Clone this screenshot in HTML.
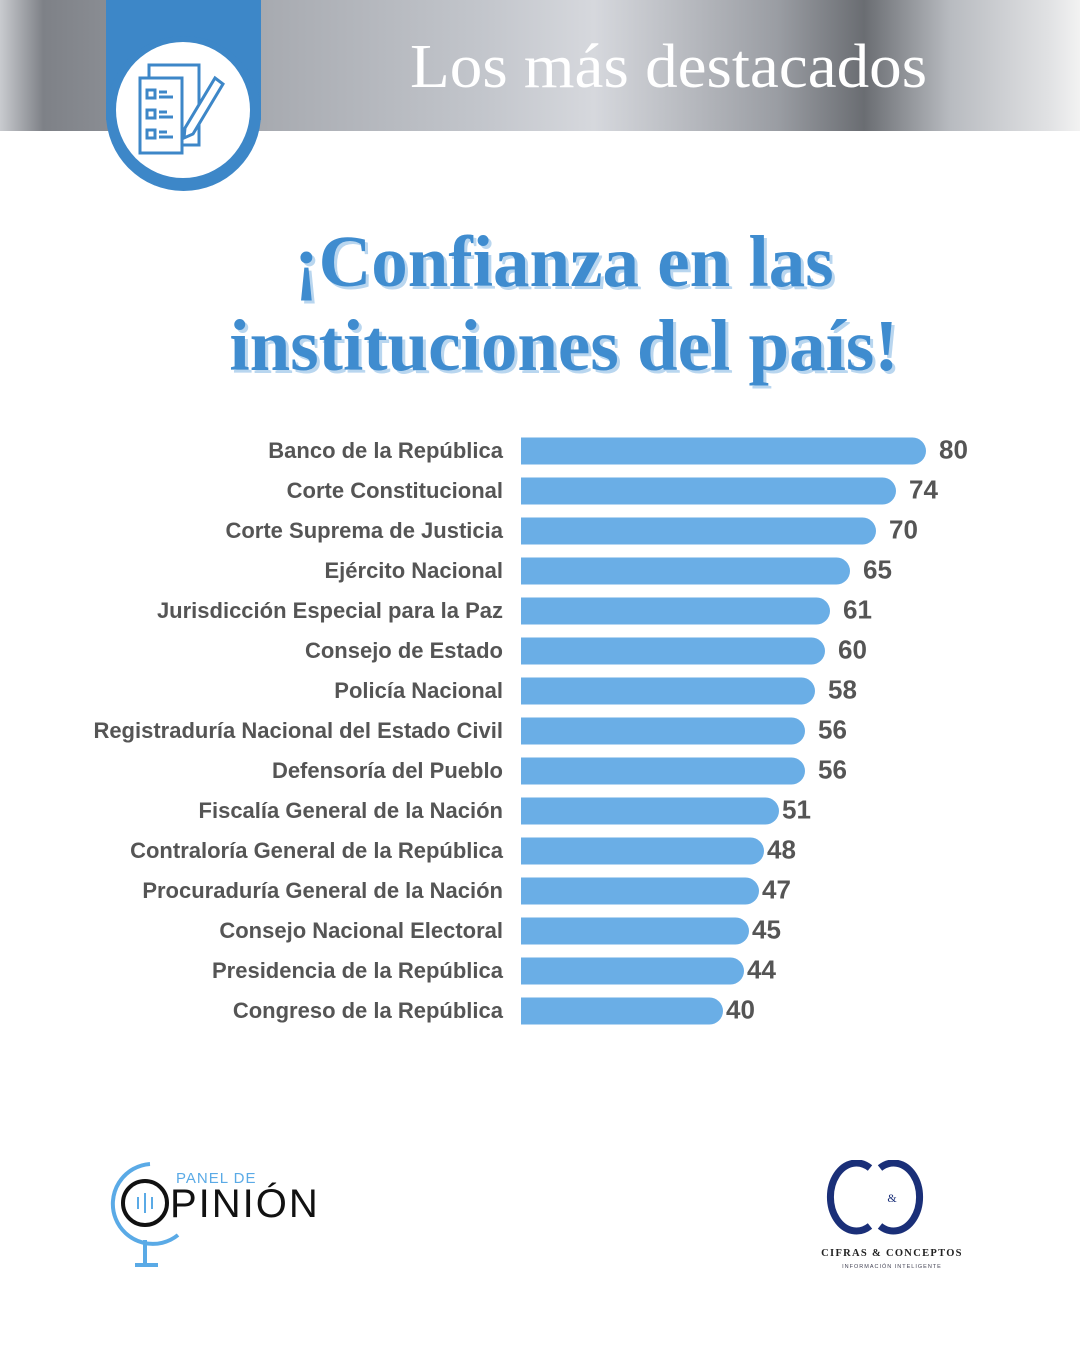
<!DOCTYPE html>
<html><head><meta charset="utf-8"><style>
body{margin:0;width:1080px;height:1350px;background:#fff;position:relative;overflow:hidden;font-family:"Liberation Sans",sans-serif}
.hdr{position:absolute;left:0;top:0;width:1080px;height:131px;background:linear-gradient(90deg,#c9cbcf 0%,#7e8187 4%,#a8abb1 25%,#c3c6cc 45%,#d6d8dd 55%,#9a9da3 72%,#6a6d72 80%,#b8bbc0 88%,#e0e1e3 97%,#f2f2f2 100%)}
.ttl{position:absolute;left:410px;top:32px;font-family:"Liberation Serif",serif;font-size:62px;color:#fff;white-space:nowrap;transform:scaleX(1.05);transform-origin:left}
.blue{position:absolute;left:106px;top:0;width:155px;height:120px;background:#3d87c8}
.circ{position:absolute;left:106px;top:36px;width:155px;height:155px;border-radius:50%;background:#3d87c8}
.inner{position:absolute;left:116px;top:42px;width:134px;height:136px;border-radius:50%;background:#fff}
h1{position:absolute;left:0;width:1128px;top:220px;margin:0;text-align:center;font-family:"Liberation Serif",serif;font-weight:bold;font-size:73px;line-height:84px;color:#3f8ccf;text-shadow:3px 3px 0 #b9d6ef}
.lab{position:absolute;right:577px;font-size:22px;color:#555;font-weight:bold;white-space:nowrap;transform:translateY(-50%)}
.bar{position:absolute;left:521px;height:27px;background:#6aaee6;border-radius:0 14px 14px 0;transform:translateY(-50%)}
.val{position:absolute;font-size:26px;font-weight:bold;color:#555;transform:translateY(-50%)}
</style></head><body>
<div class="hdr"></div>
<div class="ttl">Los más destacados</div>
<div class="blue"></div><div class="circ"></div><div class="inner"></div>
<svg style="position:absolute;left:135px;top:60px" width="95" height="100" viewBox="0 0 95 100" fill="none" stroke="#3d87c8" stroke-width="3">
<rect x="14" y="5" width="50" height="80"/><rect x="5" y="18" width="42" height="75" fill="#fff"/>
<rect x="12" y="30" width="8" height="8"/><rect x="12" y="50" width="8" height="8"/><rect x="12" y="70" width="8" height="8"/>
<path d="M24 32h8M24 37h14M24 52h8M24 57h14M24 72h8M24 77h14"/>
<path d="M80 18l8 6-30 50-9 4 1-10z" fill="#fff"/></svg>
<h1>¡Confianza en las<br>instituciones del país!</h1>
<div id="c"></div>
<script>
var d=[["Banco de la República",80,926,451],["Corte Constitucional",74,896,491],["Corte Suprema de Justicia",70,876,531],["Ejército Nacional",65,850,571],["Jurisdicción Especial para la Paz",61,830,611],["Consejo de Estado",60,825,651],["Policía Nacional",58,815,691],["Registraduría Nacional del Estado Civil",56,805,731],["Defensoría del Pueblo",56,805,771],["Fiscalía General de la Nación",51,779,811],["Contraloría General de la República",48,764,851],["Procuraduría General de la Nación",47,759,891],["Consejo Nacional Electoral",45,749,931],["Presidencia de la República",44,744,971],["Congreso de la República",40,723,1011]];
var h="";d.forEach(function(r){h+='<div class="lab" style="top:'+r[3]+'px">'+r[0]+'</div><div class="bar" style="top:'+r[3]+'px;width:'+(r[2]-521)+'px"></div><div class="val" style="top:'+(r[3]-1)+'px;left:'+(r[2]+(r[1]>=56?13:3))+'px">'+r[1]+'</div>'});
document.getElementById("c").innerHTML=h;
</script>
<svg style="position:absolute;left:100px;top:1155px" width="240" height="115">
<path d="M50 9 A40 40 0 1 0 78 80" fill="none" stroke="#5aaae6" stroke-width="4"/>
<line x1="45" y1="85" x2="45" y2="108" stroke="#5aaae6" stroke-width="4"/><line x1="35" y1="110" x2="58" y2="110" stroke="#5aaae6" stroke-width="4"/>
<circle cx="45" cy="48" r="22" fill="none" stroke="#111" stroke-width="4"/>
<path d="M38 42v12M45 38v20M52 42v12" stroke="#5aaae6" stroke-width="2"/>
<text x="76" y="28" font-family="Liberation Sans" font-size="15" fill="#5aaae6" letter-spacing="1">PANEL DE</text>
<text x="70" y="62" font-family="Liberation Sans" font-size="40" fill="#111" letter-spacing="2">PINIÓN</text></svg>
<svg style="position:absolute;left:810px;top:1160px" width="165" height="115">
<path d="M60 8 A26 34 0 1 0 60 66" fill="none" stroke="#1a2f78" stroke-width="7"/>
<path d="M70 8 A26 34 0 1 1 70 66" fill="none" stroke="#1a2f78" stroke-width="7"/>
<text x="82" y="42" font-family="Liberation Serif" font-size="12" fill="#1a2f78" text-anchor="middle">&amp;</text>
<text x="82" y="96" font-family="Liberation Serif" font-weight="bold" font-size="10.5" fill="#222" text-anchor="middle" letter-spacing="1.3">CIFRAS &amp; CONCEPTOS</text>
<text x="82" y="108" font-family="Liberation Sans" font-size="5.5" fill="#445" text-anchor="middle" letter-spacing="1">INFORMACIÓN INTELIGENTE</text></svg>
</body></html>
